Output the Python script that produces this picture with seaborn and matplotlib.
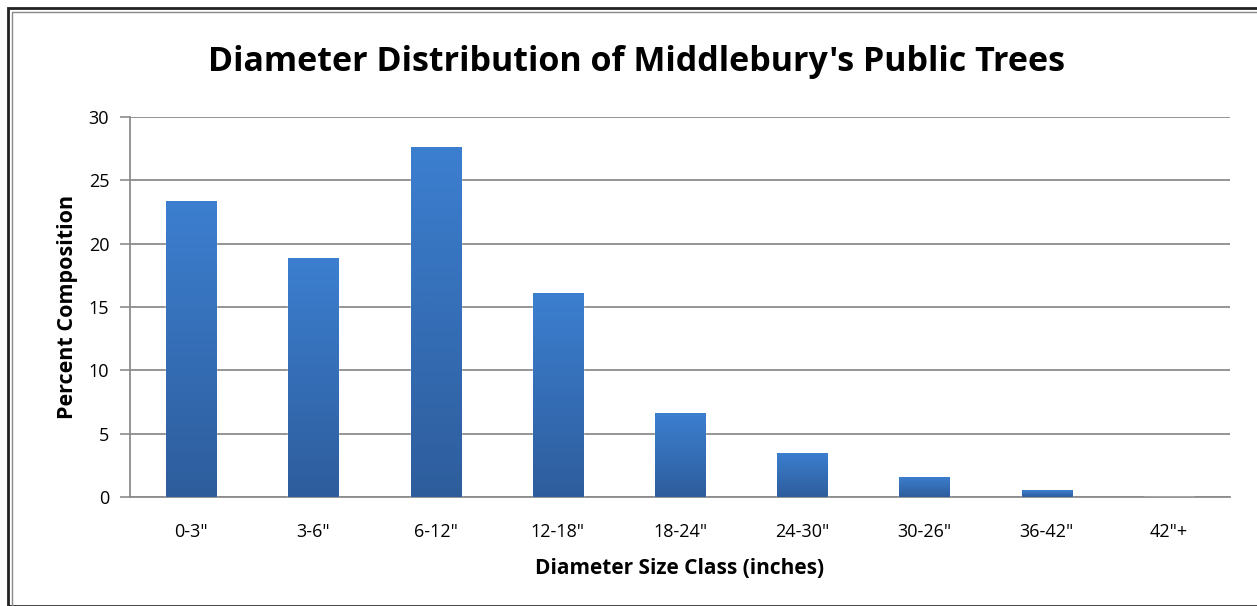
import numpy as np
import pandas as pd
import seaborn as sns
import matplotlib.pyplot as plt
from matplotlib.colors import LinearSegmentedColormap
from matplotlib.patches import Rectangle

size_class = ['0-3"', '3-6"', '6-12"', '12-18"', '18-24"', '24-30"', '30-26"', '36-42"', '42"+']
percent = [23.4, 18.9, 27.6, 16.1, 6.6, 3.5, 1.6, 0.55, 0.02]
y_ticks = [0, 5, 10, 15, 20, 25, 30]

df = pd.DataFrame({'size_class': size_class, 'percent': percent})

sns.set_theme(style='white')
plt.rcParams['font.family'] = ['Open Sans', 'DejaVu Sans']
plt.rcParams['text.color'] = 'black'
plt.rcParams['axes.labelcolor'] = 'black'
plt.rcParams['xtick.labelcolor'] = 'black'
plt.rcParams['ytick.labelcolor'] = 'black'

fig = plt.figure(figsize=(12.57, 6.06), dpi=100)
ax = fig.add_axes([130 / 1257, 1 - 497 / 606, 1100 / 1257, 380 / 606])

sns.barplot(data=df, x='size_class', y='percent', color='#3a7bc8', width=0.41,
            saturation=1, ax=ax, zorder=3)

# vertical gradient on each bar, lighter at top
grad = LinearSegmentedColormap.from_list('bar', ['#2e5d9c', '#3c7fd0'])
g = np.linspace(0, 1, 256).reshape(-1, 1)
for p in ax.patches:
    x0, y0 = p.get_x(), p.get_y()
    w, h = p.get_width(), p.get_height()
    if h <= 0:
        continue
    im = ax.imshow(g, cmap=grad, aspect='auto', origin='lower',
                   extent=[x0, x0 + w, y0, y0 + h], zorder=4)
    im.set_clip_path(p)

ax.set_xlim(-0.5, len(size_class) - 0.5)
ax.set_ylim(0, 30)
ax.set_yticks(y_ticks)
ax.set_yticklabels([str(t) for t in y_ticks], fontsize=13)
ax.yaxis.grid(True, color='#8c8c8c', linewidth=1.3, zorder=0)
ax.set_axisbelow(True)

ax.set_xticks(range(len(size_class)))
ax.set_xticklabels(size_class, fontsize=13)
ax.tick_params(axis='x', length=0, pad=19)
ax.set_xticks(np.arange(-0.5, len(size_class), 1), minor=True)
ax.tick_params(axis='x', which='minor', length=6, width=1.2, color='#8c8c8c', direction='out')
ax.tick_params(axis='y', length=7, width=1.2, color='#8c8c8c', direction='out', left=True, pad=8)

for side in ['top', 'right']:
    ax.spines[side].set_visible(False)
for side in ['left', 'bottom']:
    ax.spines[side].set_color('#8c8c8c')
    ax.spines[side].set_linewidth(1.3)

ax.set_xlabel('Diameter Size Class (inches)', fontsize=15, fontweight='bold', labelpad=12)
ax.set_ylabel('Percent Composition', fontsize=15.5, fontweight='bold', labelpad=8)

fig.text(636 / 1257, 1 - 62 / 606, "Diameter Distribution of Middlebury's Public Trees",
         ha='center', va='center', fontsize=24.5, fontweight='bold')

# double frame around the chart
fig.patches.append(Rectangle((8 / 1257, 0), 1.2, 1 - 8 / 606, transform=fig.transFigure,
                             fill=False, edgecolor='#222222', linewidth=2))
fig.patches.append(Rectangle((12 / 1257, 0), 1.2, 1 - 12 / 606, transform=fig.transFigure,
                             fill=False, edgecolor='#888888', linewidth=1))

fig.savefig('out.png', dpi=100)
